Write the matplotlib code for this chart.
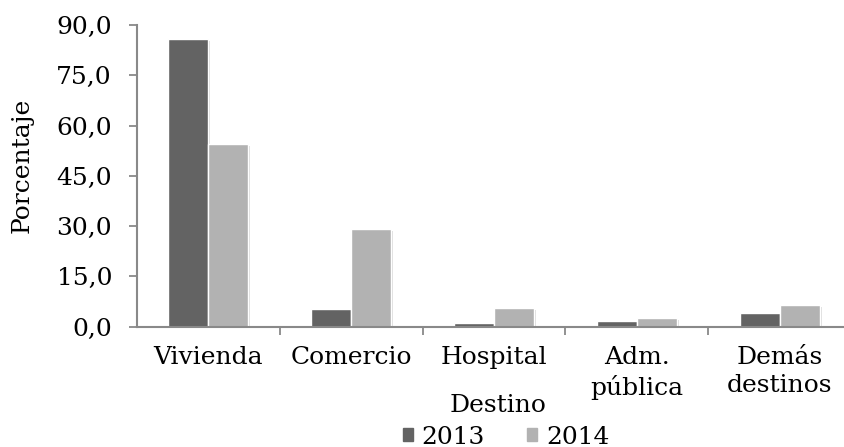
import matplotlib.pyplot as plt
import matplotlib.patheffects as pe
from matplotlib.patches import Patch
import numpy as np

categorias = ['Vivienda', 'Comercio', 'Hospital', 'Adm.\npública', 'Demás\ndestinos']
valores_2013 = [85.8, 5.1, 1.1, 1.7, 3.9]
valores_2014 = [54.5, 29.1, 5.4, 2.6, 6.3]
yticks = [0, 15, 30, 45, 60, 75, 90]

c2013 = '#636363'
c2014 = '#b2b2b2'
eje = '#898989'
fs = 18

plt.rcParams['font.family'] = ['DejaVu Serif']

fig = plt.figure(figsize=(8.44, 4.47), dpi=100)
ax = fig.add_axes([137 / 844, 120.5 / 447, 714 / 844, 301.5 / 447])

x = np.arange(len(categorias))
w = 0.28
sombra = [pe.SimplePatchShadow(offset=(1.5, -1.5), shadow_rgbFace='0.6', alpha=0.35), pe.Normal()]
ax.bar(x - w / 2, valores_2013, w, color=c2013, edgecolor='white', linewidth=1, path_effects=sombra, zorder=3)
ax.bar(x + w / 2, valores_2014, w, color=c2014, edgecolor='white', linewidth=1, path_effects=sombra, zorder=3)

ax.set_xlim(-0.5, len(categorias) - 0.5)
ax.set_ylim(0, 90)
ax.set_yticks(yticks)
ax.set_yticklabels([f'{v:.1f}'.replace('.', ',') for v in yticks])
ax.set_xticks(x)
ax.set_xticklabels(categorias, linespacing=1.3)
ax.set_xticks(np.arange(len(categorias)) + 0.5, minor=True)

ax.tick_params(axis='x', which='major', length=0, pad=14, labelsize=fs)
ax.tick_params(axis='x', which='minor', length=6, width=1.3, color=eje, direction='out')
ax.tick_params(axis='y', length=6, width=1.3, color=eje, labelsize=fs, pad=12)

for s in ['top', 'right']:
    ax.spines[s].set_visible(False)
for s in ['left', 'bottom']:
    ax.spines[s].set_color(eje)
    ax.spines[s].set_linewidth(1.5)
ax.spines['bottom'].set_zorder(4)

fig.text(22 / 844, 1 - 165 / 447, 'Porcentaje', fontsize=fs, rotation=90, ha='center', va='center')
fig.text(498 / 844, 1 - 406 / 447, 'Destino', fontsize=fs, ha='center', va='center')

handles = [Patch(color=c2013, label='2013'), Patch(color=c2014, label='2014')]
fig.legend(handles=handles, loc='center', bbox_to_anchor=(506 / 844, 1 - 437 / 447), ncol=2, frameon=False,
           fontsize=fs, handlelength=0.4, handleheight=0.4, handletextpad=0.35, columnspacing=1.7,
           borderpad=0, borderaxespad=0)

fig.savefig('out.png', dpi=100)
